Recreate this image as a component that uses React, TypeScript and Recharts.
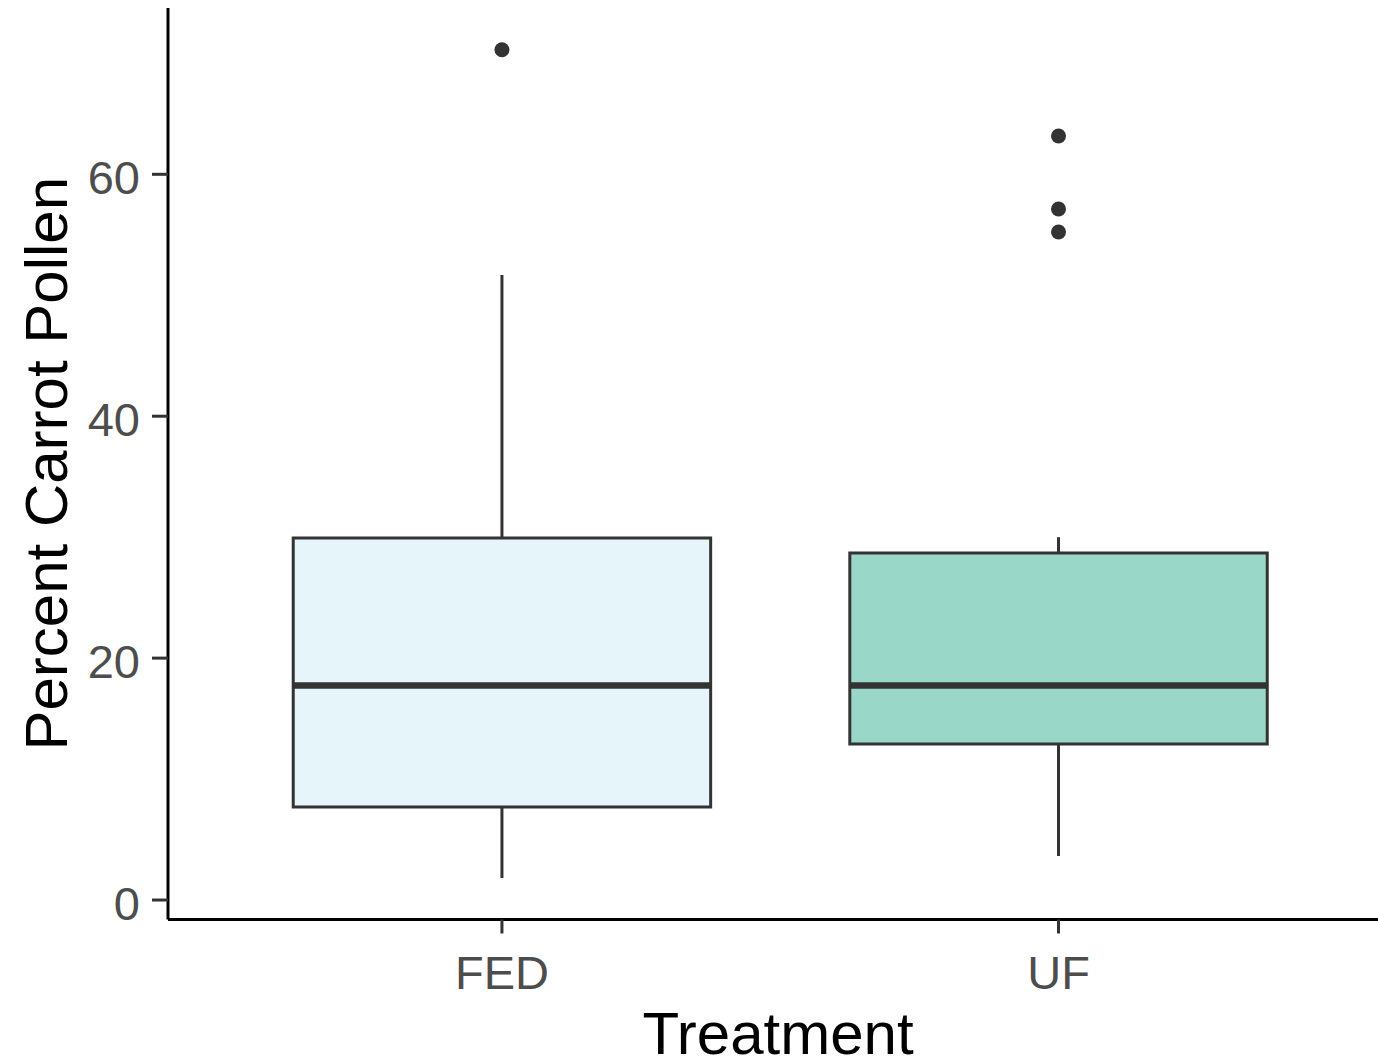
import { ComposedChart, XAxis, YAxis, Scatter, ReferenceArea, ReferenceLine } from 'recharts';

const treatments = ['FED', 'UF'];
const lowerWhisker = [1.82, 3.64];
const lowerQuartile = [7.69, 12.9];
const medians = [17.73, 17.73];
const upperQuartile = [29.93, 28.69];
const upperWhisker = [51.67, 30.0];
const outliers = [[70.3], [63.17, 57.13, 55.23]];
const boxFills = ['#e5f5f9', '#99d8c9'];
const yTicks = [0, 20, 40, 60];

const HALF_BOX = 0.375;
const FONT = '"Liberation Sans", Arial, sans-serif';
const INK = '#333333';

const outlierPoints = outliers.flatMap((vals, i) => vals.map((y) => ({ x: i + 1, y })));

function XTick(props: any) {
  const { x, y, payload } = props;
  return (
    <text x={x} y={y} dy={53} textAnchor="middle" fontSize={47} fill="#4d4d4d" fontFamily={FONT}>
      {treatments[payload.value - 1]}
    </text>
  );
}

function YTick(props: any) {
  const { x, y, payload } = props;
  return (
    <text x={x} y={y} dy={20} textAnchor="end" fontSize={47} fill="#4d4d4d" fontFamily={FONT}>
      {payload.value}
    </text>
  );
}

export default function App() {
  return (
    <div style={{ position: 'absolute', left: 0, top: 0, background: '#fff' }}>
      <ComposedChart width={1378} height={1060} margin={{ top: 8, right: 0, bottom: 0, left: 0 }}>
        <XAxis
          type="number"
          dataKey="x"
          domain={[0.4, 2.574]}
          allowDataOverflow
          ticks={[1, 2]}
          interval={0}
          height={140.5}
          axisLine={{ stroke: '#000', strokeWidth: 3 }}
          tickLine={{ stroke: INK, strokeWidth: 3 }}
          tickSize={14}
          tickMargin={2}
          tick={XTick}
          label={{
            content: (p: any) => (
              <text
                x={p.viewBox.x + 610}
                y={p.viewBox.y + 134.5}
                textAnchor="middle"
                fontSize={60}
                fill="#000"
                fontFamily={FONT}
              >
                Treatment
              </text>
            ),
          }}
        />
        <YAxis
          type="number"
          dataKey="y"
          domain={[-1.61, 73.75]}
          allowDataOverflow
          ticks={yTicks}
          interval={0}
          width={168}
          axisLine={{ stroke: '#000', strokeWidth: 3 }}
          tickLine={{ stroke: INK, strokeWidth: 3 }}
          tickSize={16}
          tickMargin={12}
          tick={YTick}
          label={{
            content: (p: any) => {
              const cx = p.viewBox.x + 67;
              const cy = p.viewBox.y + p.viewBox.height / 2;
              return (
                <text
                  x={cx}
                  y={cy}
                  transform={`rotate(-90 ${cx} ${cy})`}
                  textAnchor="middle"
                  fontSize={60}
                  fill="#000"
                  fontFamily={FONT}
                >
                  Percent Carrot Pollen
                </text>
              );
            },
          }}
        />

        {treatments.map((t, i) => (
          <ReferenceLine
            key={`lw-${t}`}
            segment={[
              { x: i + 1, y: lowerWhisker[i] },
              { x: i + 1, y: lowerQuartile[i] },
            ]}
            stroke={INK}
            strokeWidth={3}
          />
        ))}
        {treatments.map((t, i) => (
          <ReferenceLine
            key={`uw-${t}`}
            segment={[
              { x: i + 1, y: upperQuartile[i] },
              { x: i + 1, y: upperWhisker[i] },
            ]}
            stroke={INK}
            strokeWidth={3}
          />
        ))}
        {treatments.map((t, i) => (
          <ReferenceArea
            key={`box-${t}`}
            x1={i + 1 - HALF_BOX}
            x2={i + 1 + HALF_BOX}
            y1={lowerQuartile[i]}
            y2={upperQuartile[i]}
            fill={boxFills[i]}
            fillOpacity={1}
            stroke={INK}
            strokeWidth={3}
          />
        ))}
        {treatments.map((t, i) => (
          <ReferenceLine
            key={`med-${t}`}
            segment={[
              { x: i + 1 - HALF_BOX, y: medians[i] },
              { x: i + 1 + HALF_BOX, y: medians[i] },
            ]}
            stroke={INK}
            strokeWidth={6.5}
          />
        ))}

        <Scatter
          data={outlierPoints}
          isAnimationActive={false}
          shape={(p: any) => <circle cx={p.cx} cy={p.cy} r={7.5} fill={INK} />}
        />
      </ComposedChart>
    </div>
  );
}
